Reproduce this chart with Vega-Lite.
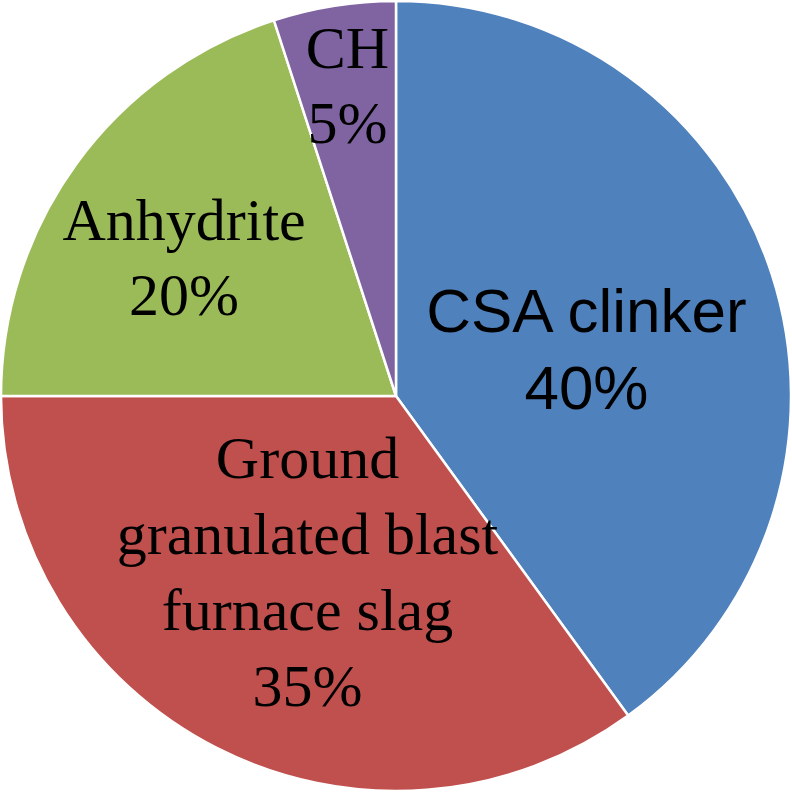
{
  "$schema": "https://vega.github.io/schema/vega-lite/v6.json",
  "width": 792,
  "height": 792,
  "autosize": {"type": "none"},
  "padding": 0,
  "background": "white",
  "view": {"stroke": null},
  "data": {"values": [
    {"cat": "CSA clinker", "value": 40, "ord": 1, "label": "CSA clinker\n40%"},
    {"cat": "Ground granulated blast furnace slag", "value": 35, "ord": 2, "label": "Ground\ngranulated blast\nfurnace slag\n35%"},
    {"cat": "Anhydrite", "value": 20, "ord": 3, "label": "Anhydrite\n20%"},
    {"cat": "CH", "value": 5, "ord": 4, "label": "CH\n5%"}
  ]},
  "encoding": {
    "theta": {"field": "value", "type": "quantitative", "stack": true},
    "order": {"field": "ord", "type": "quantitative"},
    "color": {"field": "cat", "type": "nominal", "legend": null,
      "scale": {"domain": ["CSA clinker", "Ground granulated blast furnace slag", "Anhydrite", "CH"],
                "range": ["#4F81BD", "#C0504D", "#9BBB59", "#8064A2"]}}
  },
  "layer": [
    {"mark": {"type": "arc", "outerRadius": 395, "stroke": "white", "strokeWidth": 2.5}},
    {"mark": {"type": "text", "radius": 195, "font": "Liberation Sans", "fontSize": 62, "lineHeight": 77, "lineBreak": "\n", "baseline": "middle", "align": "center", "dy": -23, "dx": 5},
     "encoding": {"color": {"value": "black"}, "text": {"condition": {"test": "datum.cat === 'CSA clinker'", "field": "label"}, "value": ""}}},
    {"mark": {"type": "text", "radius": 195, "font": "Liberation Serif", "fontSize": 60, "lineHeight": 76, "lineBreak": "\n", "baseline": "middle", "align": "center", "dy": -110},
     "encoding": {"color": {"value": "black"}, "text": {"condition": {"test": "datum.cat === 'Ground granulated blast furnace slag'", "field": "label"}, "value": ""}}},
    {"mark": {"type": "text", "radius": 262, "font": "Liberation Serif", "fontSize": 60, "lineHeight": 75, "lineBreak": "\n", "baseline": "middle", "align": "center", "dy": -20},
     "encoding": {"color": {"value": "black"}, "text": {"condition": {"test": "datum.cat === 'Anhydrite'", "field": "label"}, "value": ""}}},
    {"mark": {"type": "text", "radius": 310, "font": "Liberation Serif", "fontSize": 60, "lineHeight": 75, "lineBreak": "\n", "baseline": "middle", "align": "center", "dy": -40},
     "encoding": {"color": {"value": "black"}, "text": {"condition": {"test": "datum.cat === 'CH'", "field": "label"}, "value": ""}}}
  ]
}
